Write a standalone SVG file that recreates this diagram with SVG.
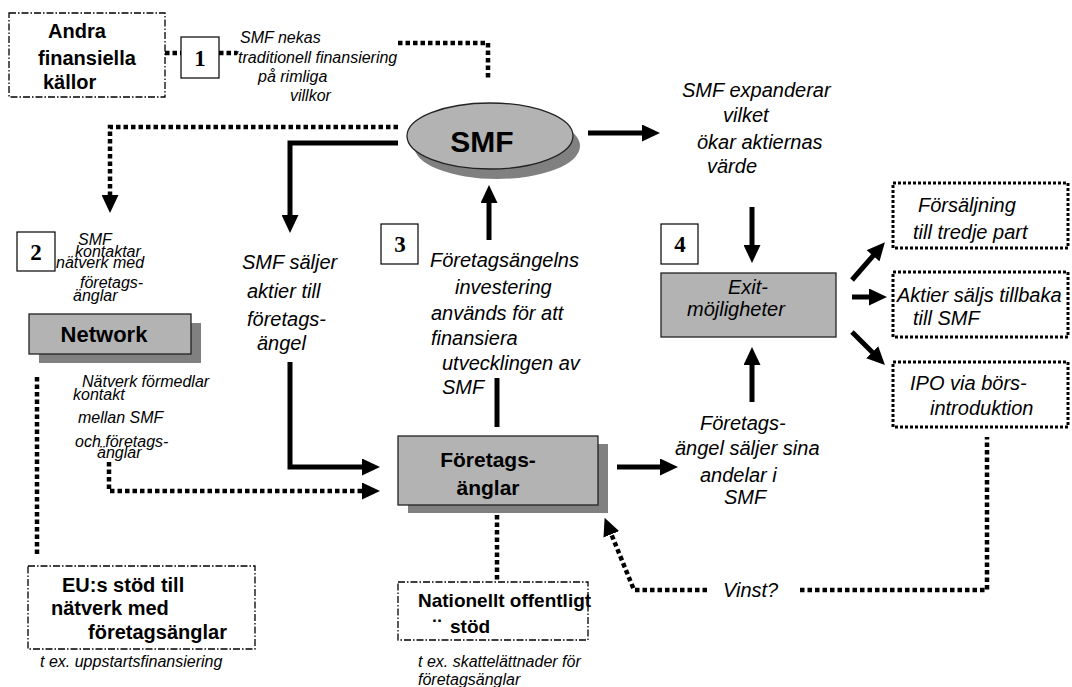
<svg xmlns="http://www.w3.org/2000/svg" width="1072" height="687" viewBox="0 0 1072 687">
<style>
text{font-family:"Liberation Sans",Arial,sans-serif;fill:#000}
.it{font-style:italic;font-size:20px}
.it16{font-style:italic;font-size:16px}
.it15{font-style:italic;font-size:16px}
.b{font-weight:bold}
.num{font-family:"Liberation Serif","Times New Roman",serif;font-weight:bold;font-size:23px;text-anchor:middle}
.numbox{fill:#fff;stroke:#000;stroke-width:1.2}
.dd{fill:#fff;stroke:#000;stroke-width:1.3;stroke-dasharray:7 2 1.5 2}
.dotbox{fill:#fff;stroke:#000;stroke-width:3;stroke-dasharray:3 2}
.gray{fill:#b3b3b3;stroke:#222;stroke-width:1.3}
.shadow{fill:#808080}
.solid{fill:none;stroke:#000;stroke-width:5}
.dot{fill:none;stroke:#000;stroke-width:4.5;stroke-dasharray:4.5 3}
</style>
<defs>
<marker id="ah" viewBox="0 0 18 17" refX="9" refY="8.5" markerWidth="18" markerHeight="17" markerUnits="userSpaceOnUse" orient="auto">
<path d="M0,0 L18,8.5 L0,17 z" fill="#000"/>
</marker>
</defs>

<g id="connectors">
<path class="dot" d="M165,53 H181"/>
<path class="dot" d="M219,53 H237"/>
<path class="dot" d="M398,43 H488 V80"/>
<path class="dot" d="M398,127 H110 V204" marker-end="url(#ah)"/>
<path class="solid" d="M398,143 H290 V224" marker-end="url(#ah)"/>
<path class="solid" d="M489,240 V194" marker-end="url(#ah)"/>
<path class="solid" d="M588,133 H651" marker-end="url(#ah)"/>
<path class="solid" d="M290,362 V467 H371" marker-end="url(#ah)"/>
<path class="dot" d="M109,462 V491 H371" marker-end="url(#ah)"/>
<path class="solid" d="M497,378 V427"/>
<path class="dot" d="M37,377 V555"/>
<path class="dot" d="M497,515 V582"/>
<path class="solid" d="M617,467 H669" marker-end="url(#ah)"/>
<path class="solid" d="M752,207 V254" marker-end="url(#ah)"/>
<path class="solid" d="M752,402 V356" marker-end="url(#ah)"/>
<path class="solid" d="M852,280 L879,249" marker-end="url(#ah)"/>
<path class="solid" d="M852,297 H878" marker-end="url(#ah)"/>
<path class="solid" d="M852,332 L878.6,358.6" marker-end="url(#ah)"/>
<path class="dot" d="M707,590 H634 L608,526" marker-end="url(#ah)"/>
<path class="dot" d="M800,590 H987 V437"/>
</g>

<g id="andra">
<rect class="dd" x="9" y="13" width="156" height="84"/>
<text class="b" font-size="20" x="48" y="38">Andra</text>
<text class="b" font-size="20" x="38" y="65">finansiella</text>
<text class="b" font-size="20" x="43" y="89">källor</text>
</g>

<g id="step1">
<rect class="numbox" x="181" y="37" width="38" height="41"/>
<text class="num" x="200" y="66">1</text>
</g>
<g id="label1">
<text class="it16" x="240" y="43">SMF nekas</text>
<text class="it16" x="235" y="63">'traditionell finansiering</text>
<text class="it16" x="258" y="82">på rimliga</text>
<text class="it16" x="290" y="101">villkor</text>
</g>

<g id="smf">
<ellipse class="shadow" cx="497" cy="146" rx="83" ry="33"/>
<ellipse class="gray" cx="490" cy="136" rx="83" ry="33"/>
<text class="b" font-size="30" x="482" y="152" text-anchor="middle">SMF</text>
</g>

<g id="label-expand">
<text class="it" x="682" y="97">SMF expanderar</text>
<text class="it" x="723" y="122">vilket</text>
<text class="it" x="697" y="149">ökar aktiernas</text>
<text class="it" x="707" y="173">värde</text>
</g>

<g id="step2">
<rect class="numbox" x="17" y="232" width="38" height="39"/>
<text class="num" x="36" y="260">2</text>
</g>
<g id="label2">
<text class="it16" x="78" y="245">SMF</text>
<text class="it16" x="75" y="257">kontaktar</text>
<text class="it16" x="56" y="268">nätverk med</text>
<text class="it16" x="80" y="288">företags-</text>
<text class="it16" x="73" y="301">änglar</text>
</g>

<g id="network">
<rect class="shadow" x="39" y="323" width="162" height="40"/>
<rect class="gray" x="29" y="314" width="162" height="40"/>
<text class="b" font-size="22" x="104" y="342" text-anchor="middle">Network</text>
</g>

<g id="label-network">
<text class="it15" x="82" y="387">Nätverk förmedlar</text>
<text class="it15" x="73" y="400">kontakt</text>
<text class="it15" x="78" y="423">mellan SMF</text>
<text class="it15" x="75" y="447">och företags-</text>
<text class="it15" x="97" y="458">änglar</text>
</g>

<g id="label-sell">
<text class="it" x="242" y="269">SMF säljer</text>
<text class="it" x="247" y="298">aktier till</text>
<text class="it" x="247" y="326">företags-</text>
<text class="it" x="257" y="350">ängel</text>
</g>

<g id="step3">
<rect class="numbox" x="381" y="224" width="37" height="40"/>
<text class="num" x="400" y="252">3</text>
</g>
<g id="label3">
<text class="it" x="430" y="267">Företagsängelns</text>
<text class="it" x="455" y="294">investering</text>
<text class="it" x="431" y="320">används för att</text>
<text class="it" x="431" y="345">finansiera</text>
<text class="it" x="442" y="370">utvecklingen av</text>
<text class="it" x="442" y="394">SMF</text>
</g>

<g id="foretagsanglar">
<rect class="shadow" x="408" y="444" width="200" height="69"/>
<rect class="gray" x="398" y="436" width="200" height="69"/>
<text class="b" font-size="21" x="488" y="467" text-anchor="middle">Företags-</text>
<text class="b" font-size="21" x="488" y="495" text-anchor="middle">änglar</text>
</g>

<g id="step4">
<rect class="numbox" x="661" y="224" width="37" height="40"/>
<text class="num" x="680" y="252">4</text>
</g>

<g id="exit">
<rect class="gray" x="661" y="273" width="175" height="64"/>
<text class="it" x="748" y="294" text-anchor="middle">Exit-</text>
<text class="it" x="687" y="316">möjligheter</text>
</g>

<g id="label-angel-sells">
<text class="it" x="700" y="430">Företags-</text>
<text class="it" x="675" y="455">ängel säljer sina</text>
<text class="it" x="700" y="482">andelar i</text>
<text class="it" x="724" y="504">SMF</text>
</g>

<g id="forsaljning">
<rect class="dotbox" x="893" y="183" width="175" height="65"/>
<text class="it" x="918" y="212">Försäljning</text>
<text class="it" x="913" y="239">till tredje part</text>
</g>
<g id="aktier">
<rect class="dotbox" x="893" y="272" width="175" height="65"/>
<text class="it" x="897" y="302">Aktier säljs tillbaka</text>
<text class="it" x="913" y="325">till SMF</text>
</g>
<g id="ipo">
<rect class="dotbox" x="893" y="362" width="175" height="65"/>
<text class="it" x="910" y="390">IPO via börs-</text>
<text class="it" x="930" y="415">introduktion</text>
</g>

<g id="vinst">
<text class="it" x="723" y="597">Vinst?</text>
</g>

<g id="eu">
<rect class="dd" x="28" y="566" width="227" height="83"/>
<text class="b" font-size="20" x="62" y="592">EU:s stöd till</text>
<text class="b" font-size="20" x="51" y="615">nätverk med</text>
<text class="b" font-size="20" x="88" y="639">företagsänglar</text>
</g>
<text class="it15" x="40" y="667">t ex. uppstartsfinansiering</text>

<g id="nationellt">
<rect class="dd" x="398" y="582" width="190" height="58"/>
<text class="b" font-size="19" x="418" y="607">Nationellt offentligt</text>
<text class="b" font-size="24" x="433" y="636">¨</text>
<text class="b" font-size="19" x="450" y="633">stöd</text>
</g>
<text class="it15" x="418" y="667">t ex. skattelättnader för</text>
<text class="it15" x="418" y="685">företagsänglar</text>
</svg>
